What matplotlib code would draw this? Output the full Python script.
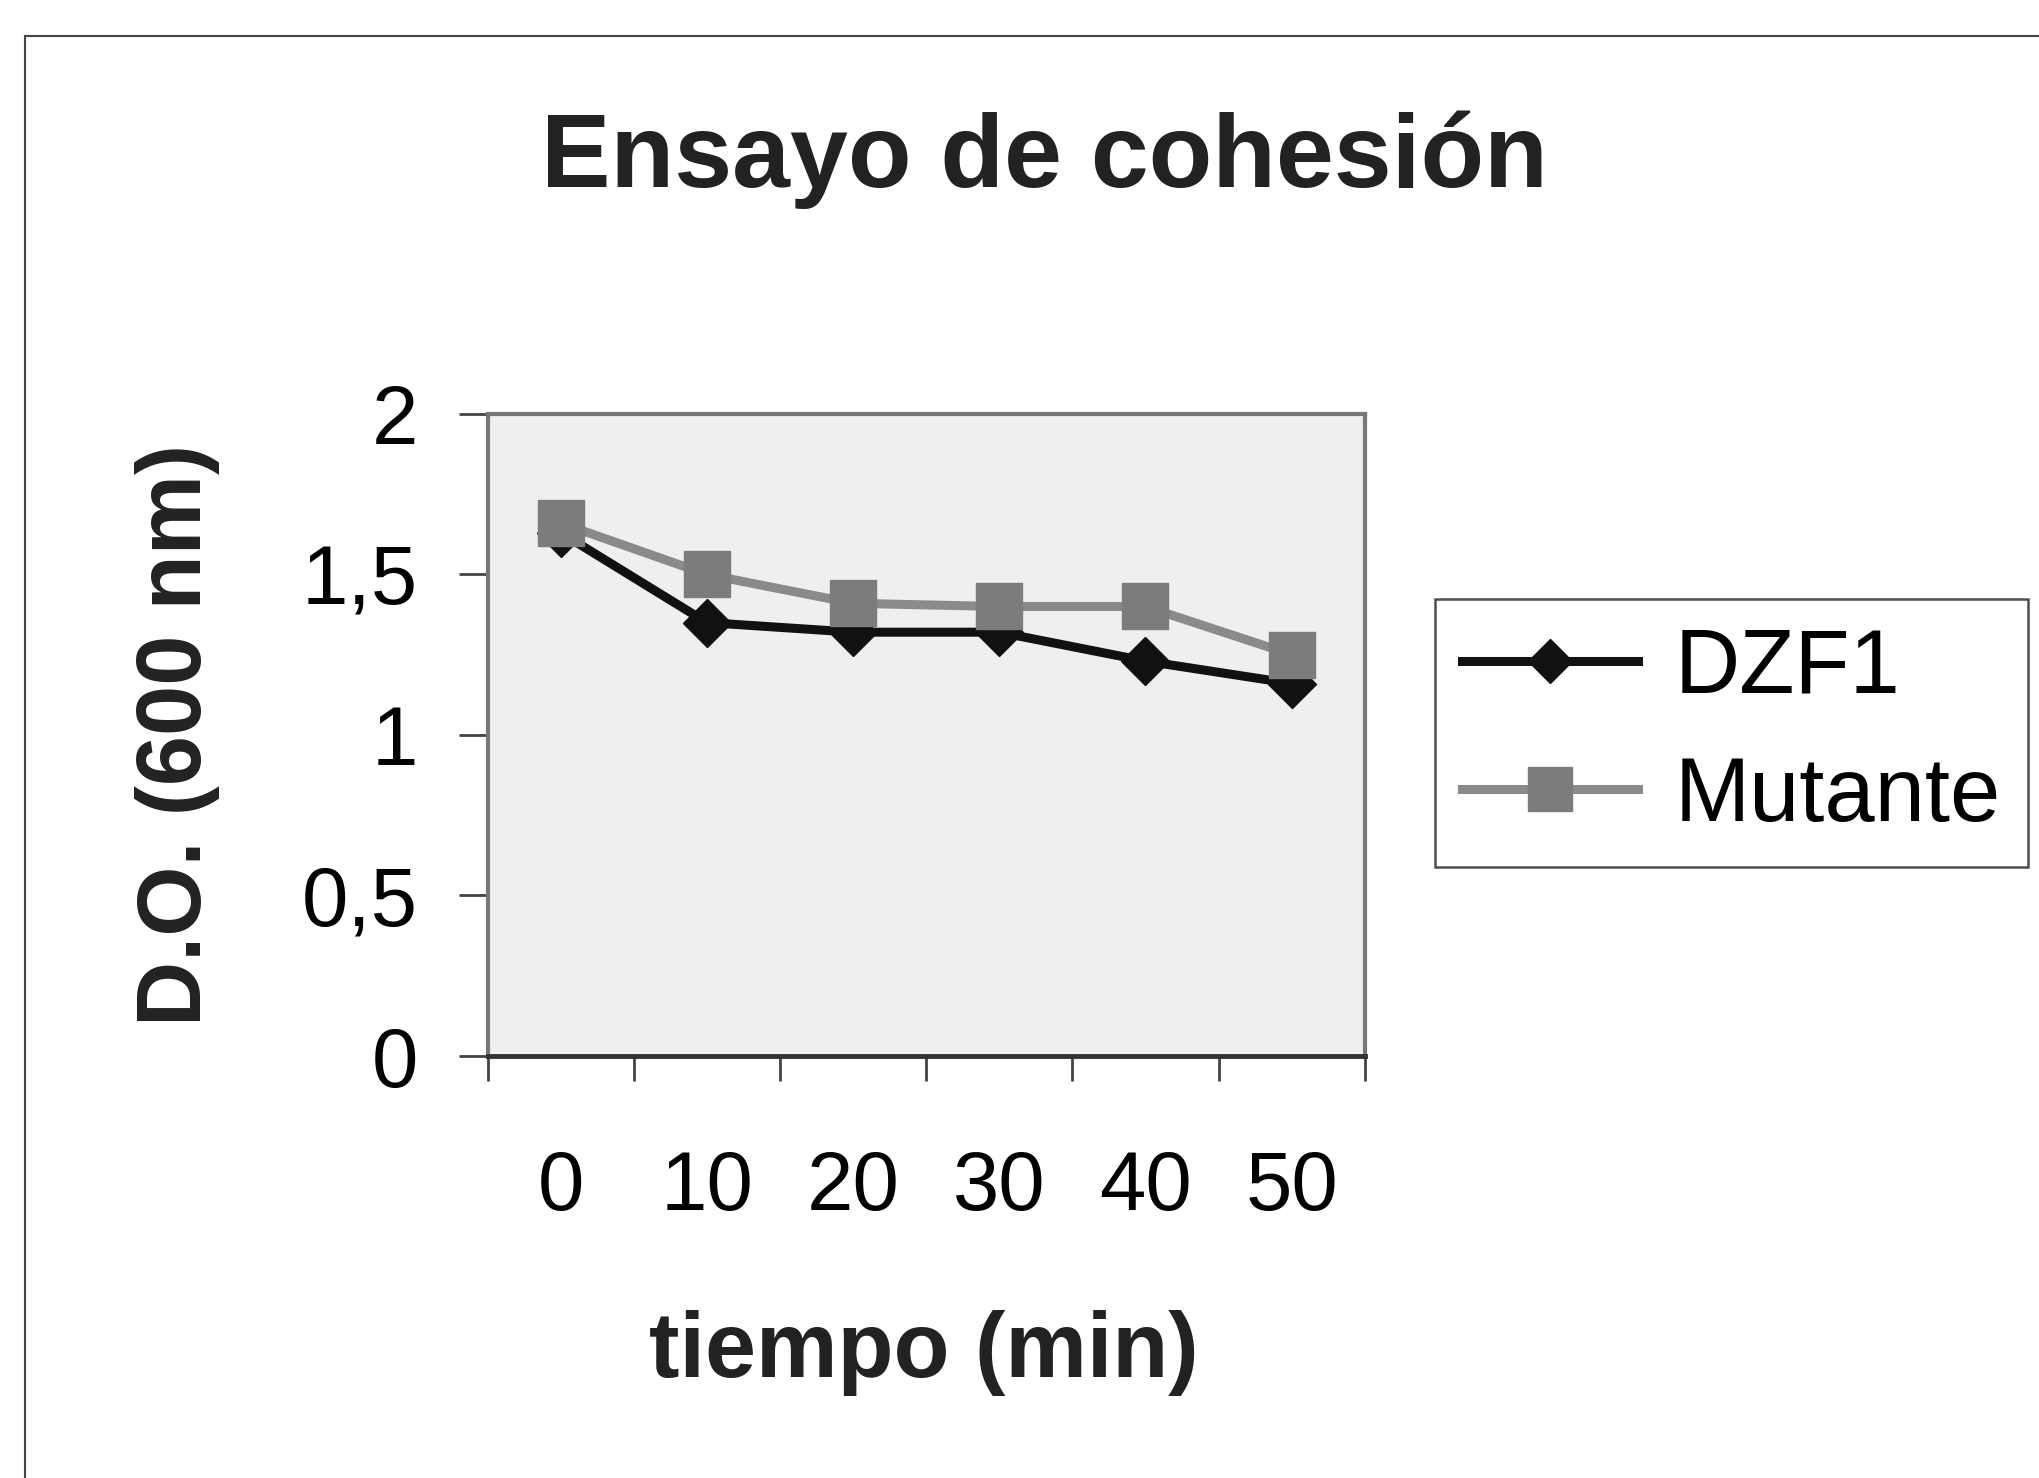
import matplotlib
matplotlib.use("Agg")
import matplotlib.pyplot as plt
from matplotlib.patches import Rectangle

plt.rcParams['font.family'] = ['Liberation Sans', 'DejaVu Sans']

# Cohesion assay: optical density at 600 nm over time
tiempo = ['0', '10', '20', '30', '40', '50']
dzf1 = [1.63, 1.35, 1.32, 1.32, 1.23, 1.16]
mutante = [1.66, 1.50, 1.41, 1.40, 1.40, 1.25]
y_ticks = [0, 0.5, 1, 1.5, 2]
y_labels = ['0', '0,5', '1', '1,5', '2']

fig = plt.figure(figsize=(20.4, 14.78), dpi=100)
fig.patch.set_facecolor('white')

# outer frame of the chart
fig.patches.append(Rectangle((25 / 2040, -0.1), 1.2, 1 - 36 / 1478 + 0.1,
                             transform=fig.transFigure, fill=False,
                             edgecolor='#444444', linewidth=1.5))

ax = fig.add_axes([0.239, 0.2855, 0.430, 0.4345])
ax.set_facecolor('#efefef')

x = list(range(len(tiempo)))
ax.plot(x, mutante, color='#8a8a8a', linewidth=6.5, marker='s', markersize=33,
        markerfacecolor='#7c7c7c', markeredgecolor='#7c7c7c', label='Mutante', zorder=2)
ax.plot(x, dzf1, color='#111111', linewidth=6.5, marker='D', markersize=24,
        markerfacecolor='#111111', markeredgecolor='#111111', label='DZF1', zorder=1)

ax.set_xlim(-0.5, len(tiempo) - 0.5)
ax.set_ylim(0, 2)

# category axis: ticks between categories, labels at centres
ax.set_xticks([i - 0.5 for i in range(len(tiempo) + 1)])
ax.set_xticklabels([])
ax.set_xticks(x, minor=True)
ax.set_xticklabels(tiempo, minor=True, fontsize=60)
ax.tick_params(axis='x', which='minor', length=0, pad=67)
ax.tick_params(axis='x', which='major', length=18, width=2, color='#444444', direction='out')

ax.set_yticks(y_ticks)
ax.set_yticklabels(y_labels, fontsize=60)
ax.tick_params(axis='y', length=21, width=2, color='#444444', direction='out', pad=29)

for side in ['left', 'right', 'top']:
    ax.spines[side].set_color('#777777')
    ax.spines[side].set_linewidth(3)
ax.spines['bottom'].set_color('#333333')
ax.spines['bottom'].set_linewidth(3.5)

fig.text(0.512, 0.892, 'Ensayo de cohesión', fontsize=75, fontweight='bold',
         ha='center', va='center', color='#222222')
fig.text(0.087, 0.503, 'D.O. (600 nm)', fontsize=65, fontweight='bold',
         rotation=90, ha='center', va='center', color='#222222')
fig.text(0.453, 0.0846, 'tiempo (min)', fontsize=66, fontweight='bold',
         ha='center', va='center', color='#222222')

handles, labels = ax.get_legend_handles_labels()
leg = fig.legend(handles[::-1], labels[::-1], loc='center left',
                 bbox_to_anchor=(1435 / 2040, 1 - 733 / 1478),
                 fontsize=65, frameon=True, fancybox=False, edgecolor='#222222',
                 handlelength=1.95, handletextpad=0.4, labelspacing=0.48,
                 borderpad=0.3, borderaxespad=0, markerscale=0.95)
leg.get_frame().set_linewidth(1.8)

fig.savefig('out.png', dpi=100, facecolor='white')
